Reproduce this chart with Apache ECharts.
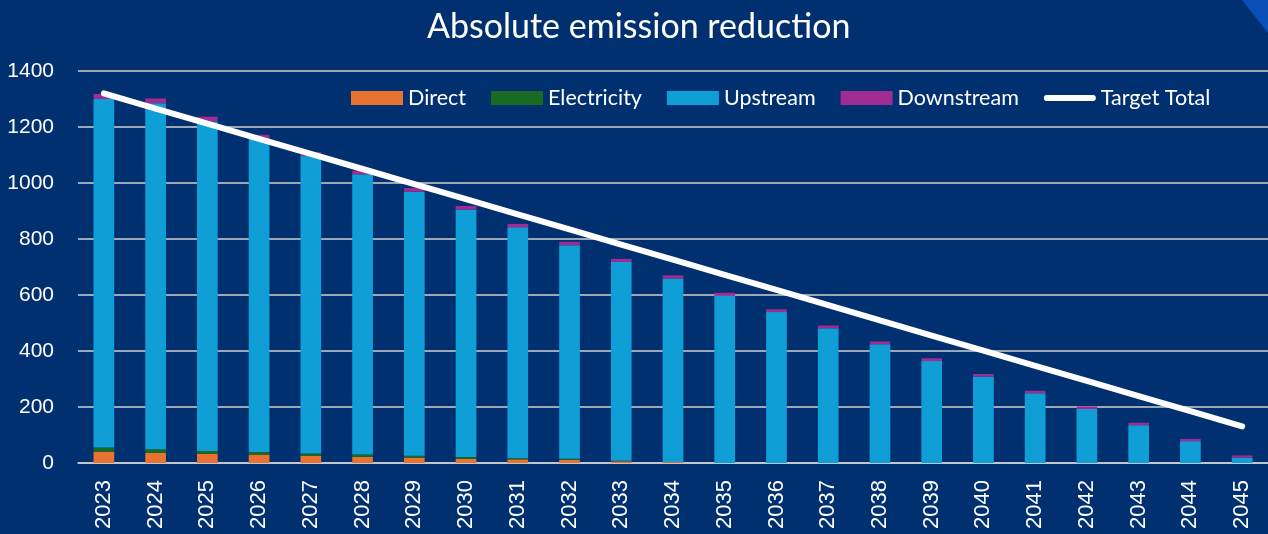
<!DOCTYPE html>
<html>
<head>
<meta charset="utf-8">
<script src="https://cdn.jsdelivr.net/npm/echarts@6/dist/echarts.min.js"></script>
<style>
html,body{margin:0;padding:0;background:#003070;}
#chart{width:1268px;height:534px;}
</style>
</head>
<body>
<div id="chart"></div>
<script>
const years = ['2023','2024','2025','2026','2027','2028','2029','2030','2031','2032','2033','2034','2035','2036','2037','2038','2039','2040','2041','2042','2043','2044','2045'];
const direct = [40,36,33,30,26,22,19,15,13,11,6,3,0,0,0,0,0,0,0,0,0,0,0];
const electricity = [15,13,10,9,8,8,7,6,5,4,2,1,0,0,0,0,0,0,0,0,0,0,0];
const upstream = [1245,1236,1177,1119,1062,1001,943,884,824,763,710,655,597,539,481,424,364,309,249,193,135,78,19];
const downstream = [18,17,17,14,14,13,13,13,12,12,11,11,11,10,10,10,10,9,9,9,9,8,8];
const targetTotal = [1320,1266,1212,1158,1104,1050,996,942,888,834,780,726,672,618,564,509,455,401,347,293,239,185,131];
const yTicks = {min:0, max:1400, interval:200};

const chart = echarts.init(document.getElementById('chart'));
const legendFont = 'Lato';
const barSeries = (name, data, color) => ({
  name, type:'bar', stack:'total', data, barWidth:'40%',
  itemStyle:{color}, emphasis:{disabled:true}
});
chart.setOption({
  backgroundColor:'#003070',
  animation:false,
  title:{
    text:'Absolute emission reduction', left:422, top:5,
    textStyle:{color:'#ffffff', fontFamily:legendFont, fontWeight:'normal', fontSize:34}
  },
  graphic:[{
    type:'polygon', shape:{points:[[1242,0],[1268,0],[1268,33]]},
    style:{fill:'#0a4fb5'}, silent:true
  }],
  legend:{
    left:346, top:82, itemWidth:52, itemHeight:14, itemGap:25,
    textStyle:{color:'#ffffff', fontFamily:legendFont, fontSize:21.5},
    data:[
      {name:'Direct', icon:'rect'},
      {name:'Electricity', icon:'rect'},
      {name:'Upstream', icon:'rect'},
      {name:'Downstream', icon:'rect'},
      {name:'Target Total', icon:'path://M3,0 L51,0 A3,3 0 0 1 51,6 L3,6 A3,3 0 0 1 3,0 Z', itemStyle:{color:'#ffffff'}}
    ]
  },
  grid:{left:78, top:71, width:1197, height:392, containLabel:false},
  xAxis:{
    type:'category', data:years,
    axisLine:{show:true, lineStyle:{color:'#d0d0d0', width:1.5}},
    axisTick:{show:false},
    axisLabel:{rotate:90, margin:17, color:'#ffffff', fontSize:22, fontFamily:'Liberation Sans'}
  },
  yAxis:{
    type:'value', min:yTicks.min, max:yTicks.max, interval:yTicks.interval,
    axisLine:{show:false}, axisTick:{show:false},
    axisLabel:{margin:24, color:'#ffffff', fontSize:21, fontFamily:'Liberation Sans', formatter:v => String(v)},
    splitLine:{lineStyle:{color:'#d0d0d0', width:1.5}}
  },
  series:[
    barSeries('Direct', direct, '#E97132'),
    barSeries('Electricity', electricity, '#196B24'),
    barSeries('Upstream', upstream, '#0F9ED5'),
    barSeries('Downstream', downstream, '#A02B93'),
    {
      name:'Target Total', type:'line', data:targetTotal, symbol:'none',
      lineStyle:{color:'#ffffff', width:6, cap:'round'}, itemStyle:{color:'#ffffff'},
      emphasis:{disabled:true}, z:5
    }
  ]
});
</script>
</body>
</html>
